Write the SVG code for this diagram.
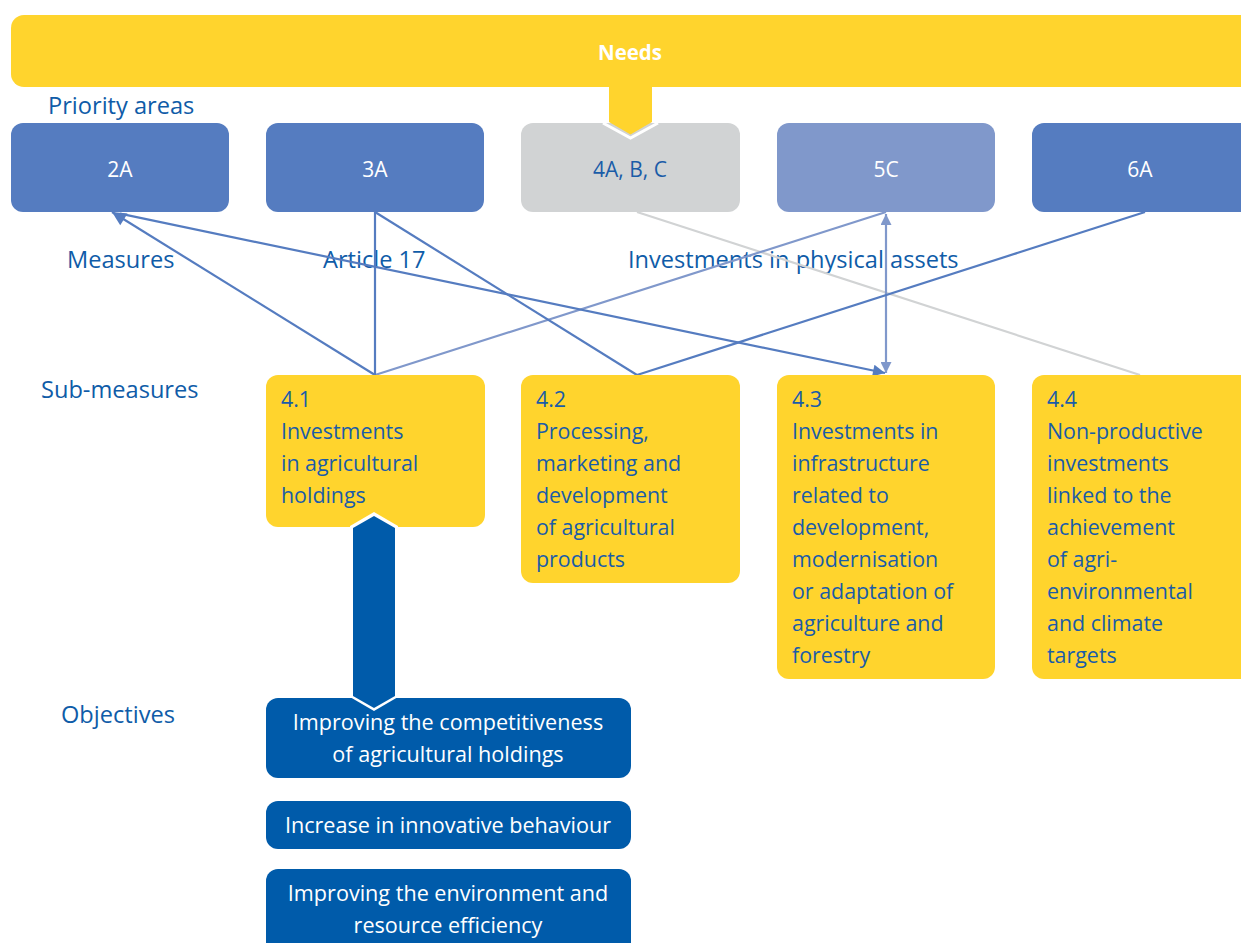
<svg xmlns="http://www.w3.org/2000/svg" width="1241" height="943" viewBox="0 0 1241 943">
<style>
text{font-family:"Open Sans","Noto Sans","Liberation Sans",sans-serif}
.lbl{fill:#0F5CA8;font-size:23.6px}
.pa{fill:#ffffff;font-size:21px;text-anchor:middle}
.sm{fill:#1A5CA8;font-size:21.4px}
.ob{fill:#ffffff;font-size:21.6px;text-anchor:middle}
.yel{fill:#FFD42D}
.pblue{fill:#557CC0}
.obj{fill:#005BAA}
.c1{stroke:#557CC0;stroke-width:2.2;fill:none}
.c2{stroke:#8098CB;stroke-width:2.2;fill:none}
.c3{stroke:#D1D3D4;stroke-width:2.2;fill:none}
</style>
<defs>
<marker id="ah1" viewBox="0 0 10 10" refX="10" refY="5" markerWidth="20" markerHeight="14" markerUnits="userSpaceOnUse" orient="auto-start-reverse"><path d="M0,0 L10,5 L0,10 Z" fill="#557CC0"/></marker>
<marker id="ah1b" viewBox="0 0 10 10" refX="10" refY="5" markerWidth="18" markerHeight="12" markerUnits="userSpaceOnUse" orient="auto-start-reverse"><path d="M0,0 L10,5 L0,10 Z" fill="#557CC0"/></marker>
<marker id="ah2" viewBox="0 0 10 10" refX="10" refY="5" markerWidth="14" markerHeight="11" markerUnits="userSpaceOnUse" orient="auto-start-reverse"><path d="M0,0 L10,5 L0,10 Z" fill="#8098CB"/></marker>
</defs>

<g id="needs">
<rect x="11" y="15" width="1250" height="72" rx="13" class="yel"/>
<text x="630" y="60" font-size="20.5" font-weight="bold" fill="#ffffff" text-anchor="middle">Needs</text>
</g>

<g id="labels">
<text x="48" y="114" class="lbl">Priority areas</text>
<text x="67" y="268" class="lbl">Measures</text>
<text x="323" y="268" class="lbl">Article 17</text>
<text x="628" y="268" class="lbl">Investments in physical assets</text>
<text x="41" y="398" class="lbl">Sub-measures</text>
<text x="61" y="723" class="lbl">Objectives</text>
</g>

<g id="connectors">
<line x1="637" y1="212" x2="1140" y2="375" class="c3"/>
<line x1="886" y1="212" x2="375" y2="375" class="c2"/>
<line x1="886" y1="214" x2="886" y2="373" class="c2" marker-start="url(#ah2)" marker-end="url(#ah2)"/>
<line x1="112" y1="212" x2="375" y2="375" class="c1" marker-start="url(#ah1)"/>
<line x1="120" y1="213.7" x2="885" y2="373" class="c1" marker-end="url(#ah1b)"/>
<line x1="375" y1="212" x2="375" y2="375" class="c1"/>
<line x1="375" y1="212" x2="637" y2="375" class="c1"/>
<line x1="1145" y1="212" x2="637" y2="375" class="c1"/>
</g>

<g id="pa-2A"><rect x="11" y="123" width="218" height="89" rx="12" class="pblue"/><text x="120" y="177" class="pa">2A</text></g>
<g id="pa-3A"><rect x="266" y="123" width="218" height="89" rx="12" class="pblue"/><text x="375" y="177" class="pa">3A</text></g>
<g id="pa-4ABC"><rect x="521" y="123" width="219" height="89" rx="12" fill="#D1D3D4"/><text x="630" y="177" class="pa" style="fill:#1A5CA8">4A, B, C</text></g>
<g id="pa-5C"><rect x="777" y="123" width="218" height="89" rx="12" fill="#8098CB"/><text x="886" y="177" class="pa">5C</text></g>
<g id="pa-6A"><rect x="1032" y="123" width="230" height="89" rx="12" class="pblue"/><text x="1140" y="177" class="pa">6A</text></g>

<g id="needs-tab">
<polyline points="603,123 630.5,138 658,123" fill="none" stroke="#ffffff" stroke-width="3"/>
<polygon points="609,85 652,85 652,122 630.5,134.5 609,122" class="yel"/>
</g>

<g id="sm-4.1">
<rect x="266" y="375" width="219" height="152" rx="12" class="yel"/>
<text class="sm"><tspan x="281" y="407">4.1</tspan><tspan x="281" y="439">Investments</tspan><tspan x="281" y="471">in agricultural</tspan><tspan x="281" y="503">holdings</tspan></text>
</g>
<g id="sm-4.2">
<rect x="521" y="375" width="219" height="208" rx="12" class="yel"/>
<text class="sm"><tspan x="536" y="407">4.2</tspan><tspan x="536" y="439">Processing,</tspan><tspan x="536" y="471">marketing and</tspan><tspan x="536" y="503">development</tspan><tspan x="536" y="535">of agricultural</tspan><tspan x="536" y="567">products</tspan></text>
</g>
<g id="sm-4.3">
<rect x="777" y="375" width="218" height="304" rx="12" class="yel"/>
<text class="sm"><tspan x="792" y="407">4.3</tspan><tspan x="792" y="439">Investments in</tspan><tspan x="792" y="471">infrastructure</tspan><tspan x="792" y="503">related to</tspan><tspan x="792" y="535">development,</tspan><tspan x="792" y="567">modernisation</tspan><tspan x="792" y="599">or adaptation of</tspan><tspan x="792" y="631">agriculture and</tspan><tspan x="792" y="663">forestry</tspan></text>
</g>
<g id="sm-4.4">
<rect x="1032" y="375" width="230" height="304" rx="12" class="yel"/>
<text class="sm"><tspan x="1047" y="407">4.4</tspan><tspan x="1047" y="439">Non-productive</tspan><tspan x="1047" y="471">investments</tspan><tspan x="1047" y="503">linked to the</tspan><tspan x="1047" y="535">achievement</tspan><tspan x="1047" y="567">of agri-</tspan><tspan x="1047" y="599">environmental</tspan><tspan x="1047" y="631">and climate</tspan><tspan x="1047" y="663">targets</tspan></text>
</g>

<g id="obj-1">
<rect x="266" y="698" width="365" height="80" rx="12" class="obj"/>
<text class="ob"><tspan x="448" y="730">Improving the competitiveness</tspan><tspan x="448" y="762">of agricultural holdings</tspan></text>
</g>
<g id="obj-2">
<rect x="266" y="801" width="365" height="48" rx="12" class="obj"/>
<text x="448" y="833" class="ob">Increase in innovative behaviour</text>
</g>
<g id="obj-3">
<rect x="266" y="869" width="365" height="90" rx="12" class="obj"/>
<text class="ob"><tspan x="448" y="901">Improving the environment and</tspan><tspan x="448" y="933">resource efficiency</tspan></text>
</g>

<g id="link-4.1-obj">
<polygon points="374,512 398,526 398,697 374,711 350,697 350,526" fill="#ffffff"/>
<polygon points="374,516 395,528 395,696 374,708 353,696 353,528" class="obj"/>
</g>
</svg>
